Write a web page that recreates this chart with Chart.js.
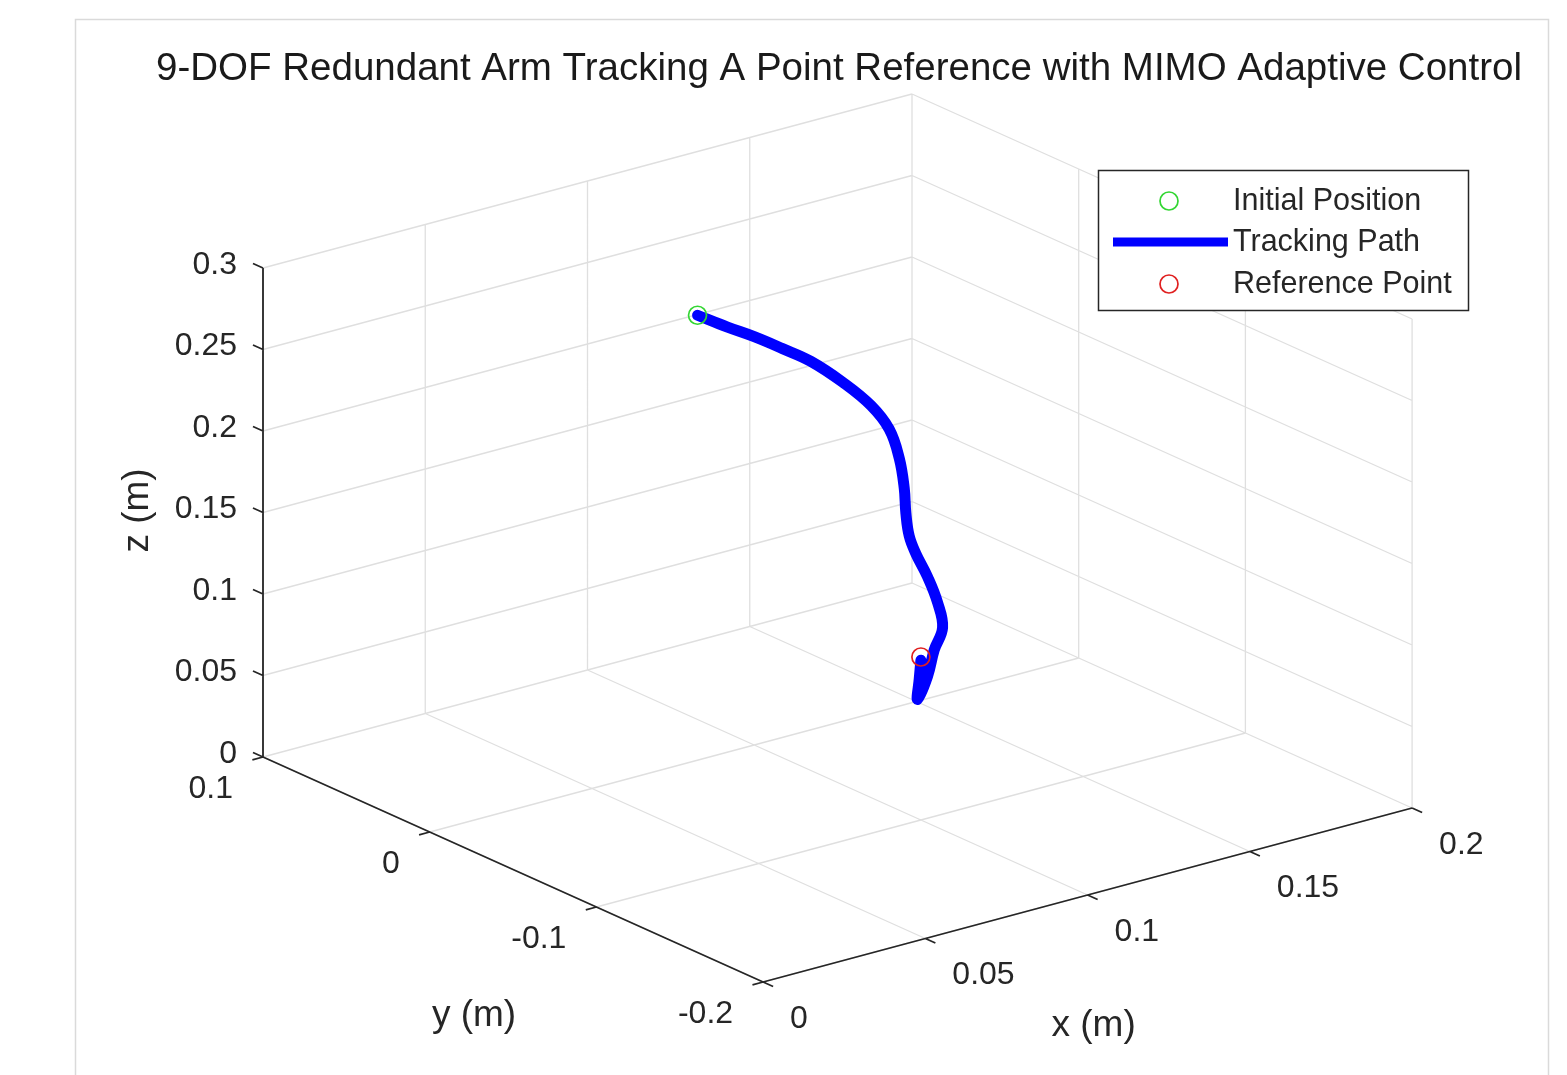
<!DOCTYPE html>
<html>
<head>
<meta charset="utf-8">
<script src="https://cdn.jsdelivr.net/npm/chart.js@4.4.1/dist/chart.umd.min.js"></script>
<style>
html,body{margin:0;padding:0;background:#ffffff;overflow:hidden;}
#wrap{position:relative;width:1567px;height:1075px;}
</style>
</head>
<body>
<div id="wrap"><canvas id="c" width="1567" height="1075"></canvas></div>
<script>
// ---------------- data ----------------
const chartTitle = '9-DOF Redundant Arm Tracking A Point Reference with MIMO Adaptive Control';
const xTicks = [0, 0.05, 0.1, 0.15, 0.2];
const yTicks = [-0.2, -0.1, 0, 0.1];
const zTicks = [0, 0.05, 0.1, 0.15, 0.2, 0.25, 0.3];
const xTickLabels = ['0', '0.05', '0.1', '0.15', '0.2'];
const yTickLabels = ['-0.2', '-0.1', '0', '0.1'];
const zTickLabels = ['0', '0.05', '0.1', '0.15', '0.2', '0.25', '0.3'];
const axisTitles = ['x (m)', 'y (m)', 'z (m)'];
const seriesNames = ['Initial Position', 'Tracking Path', 'Reference Point'];

// tracking path (m)
const pathX = [0.100, 0.100, 0.100, 0.100, 0.100, 0.100, 0.100, 0.100, 0.100, 0.100, 0.100,
               0.100, 0.100, 0.100, 0.100, 0.100, 0.100, 0.100, 0.100, 0.100, 0.100];
const pathY = [0.034, 0.016, 0.000, -0.017, -0.034, -0.053, -0.070, -0.081, -0.087, -0.090, -0.091,
               -0.093, -0.097, -0.104, -0.110, -0.113, -0.108, -0.104, -0.098, -0.099, -0.100];
const pathZ = [0.248, 0.249, 0.2505, 0.251, 0.251, 0.247, 0.2405, 0.231, 0.216, 0.199, 0.184,
               0.171, 0.162, 0.151, 0.138, 0.124, 0.108, 0.090, 0.073, 0.086, 0.098];
const initialPosition = [0.100, 0.034, 0.248];
const referencePoint = [0.100, -0.100, 0.100];

// ---------------- view (3-D to screen) ----------------
const VIEW = { origin: [429.7, 832], ex: [3245, -870], ey: [-1667, -750], ez: [0, -1630] };
function project(x, y, z) {
  return {
    x: VIEW.origin[0] + x * VIEW.ex[0] + y * VIEW.ey[0] + z * VIEW.ez[0],
    y: VIEW.origin[1] + x * VIEW.ex[1] + y * VIEW.ey[1] + z * VIEW.ez[1]
  };
}
function unit(v) { const l = Math.hypot(v[0], v[1]); return [v[0] / l, v[1] / l]; }
const xMin = xTicks[0], xMax = xTicks[xTicks.length - 1];
const yMin = yTicks[0], yMax = yTicks[yTicks.length - 1];
const zMin = zTicks[0], zMax = zTicks[zTicks.length - 1];
const GAP = { x: null, y: null };
const TICK_LEN = 11;

function seg(list, a, b) { list.push(project(a[0], a[1], a[2]), project(b[0], b[1], b[2]), GAP); }
function tick(list, p, dir) { list.push({ x: p.x, y: p.y }, { x: p.x + dir[0] * TICK_LEN, y: p.y + dir[1] * TICK_LEN }, GAP); }

const gridPts = [];
xTicks.forEach(x => { seg(gridPts, [x, yMin, zMin], [x, yMax, zMin]); seg(gridPts, [x, yMax, zMin], [x, yMax, zMax]); });
yTicks.forEach(y => { seg(gridPts, [xMin, y, zMin], [xMax, y, zMin]); seg(gridPts, [xMax, y, zMin], [xMax, y, zMax]); });
zTicks.forEach(z => { seg(gridPts, [xMin, yMax, z], [xMax, yMax, z]); seg(gridPts, [xMax, yMin, z], [xMax, yMax, z]); });

const dX = unit(VIEW.ex), dY = unit(VIEW.ey);
const axisPts = [];
seg(axisPts, [xMin, yMin, zMin], [xMax, yMin, zMin]);
seg(axisPts, [xMin, yMin, zMin], [xMin, yMax, zMin]);
seg(axisPts, [xMin, yMax, zMin], [xMin, yMax, zMax]);
xTicks.forEach(x => tick(axisPts, project(x, yMin, zMin), [-dY[0], -dY[1]]));
yTicks.forEach(y => tick(axisPts, project(xMin, y, zMin), [-dX[0], -dX[1]]));
zTicks.forEach(z => tick(axisPts, project(xMin, yMax, z), [dY[0], dY[1]]));

const pathPts = pathX.map((x, i) => project(x, pathY[i], pathZ[i]));

const FONT = '"Liberation Sans", Arial, Helvetica, sans-serif';
const TEXT = '#262626';

const mat3dPlugin = {
  id: 'mat3d',
  beforeDraw(chart) {
    const ctx = chart.ctx;
    ctx.save();
    ctx.fillStyle = '#ffffff';
    ctx.fillRect(0, 0, chart.width, chart.height);
    ctx.strokeStyle = '#dadada';
    ctx.lineWidth = 1.5;
    ctx.beginPath();
    ctx.moveTo(75.5, chart.height); ctx.lineTo(75.5, 19.5); ctx.lineTo(1548.5, 19.5); ctx.lineTo(1548.5, chart.height);
    ctx.stroke();
    ctx.restore();
  },
  afterDraw(chart) {
    const ctx = chart.ctx;
    const sx = chart.scales.x, sy = chart.scales.y;
    const P = (p) => ({ x: sx.getPixelForValue(p.x), y: sy.getPixelForValue(p.y) });
    ctx.save();
    ctx.fillStyle = TEXT;
    ctx.textBaseline = 'middle';
    ctx.font = '32px ' + FONT;
    // z tick labels
    ctx.textAlign = 'right';
    zTicks.forEach((z, i) => { const p = P(project(xMin, yMax, z)); ctx.fillText(zTickLabels[i], p.x - 26, p.y - 3); });
    // y tick labels
    yTicks.forEach((y, i) => { const p = P(project(xMin, y, zMin)); ctx.fillText(yTickLabels[i], p.x - 30, p.y + 32); });
    // x tick labels
    ctx.textAlign = 'left';
    xTicks.forEach((x, i) => { const p = P(project(x, yMin, zMin)); ctx.fillText(xTickLabels[i], p.x + 27, p.y + 37); });
    // axis titles
    ctx.font = '37px ' + FONT;
    ctx.textAlign = 'center';
    let p = P(project((xMin + xMax) / 2, yMin, zMin));
    ctx.fillText(axisTitles[0], p.x + 6, p.y + 131);
    p = P(project(xMin, (yMin + yMax) / 2, zMin));
    ctx.fillText(axisTitles[1], p.x - 39, p.y + 146);
    p = P(project(xMin, yMax, (zMin + zMax) / 2));
    ctx.save();
    ctx.translate(p.x - 125, p.y - 2);
    ctx.rotate(-Math.PI / 2);
    ctx.fillText(axisTitles[2], 0, 0);
    ctx.restore();
    // title
    ctx.font = '38.5px ' + FONT;
    ctx.fillStyle = '#1a1a1a';
    ctx.fillText(chartTitle, 839, 69);
    // legend
    const lx = 1098, ly = 170, lw = 370, lh = 140;
    ctx.fillStyle = '#ffffff';
    ctx.fillRect(lx, ly, lw, lh);
    ctx.strokeStyle = '#262626';
    ctx.lineWidth = 1.5;
    ctx.strokeRect(lx + 0.5, ly + 0.5, lw, lh);
    const order = [0, 1, 2];
    const rows = [201, 242, 284];
    ctx.font = '30.5px ' + FONT;
    ctx.textAlign = 'left';
    order.forEach((di, r) => {
      const ds = chart.data.datasets[di];
      const yy = rows[r];
      if (ds.showLine) {
        ctx.strokeStyle = ds.borderColor;
        ctx.lineWidth = 9;
        ctx.lineCap = 'butt';
        ctx.beginPath(); ctx.moveTo(1113, yy); ctx.lineTo(1228, yy); ctx.stroke();
      } else {
        ctx.strokeStyle = ds.pointBorderColor;
        ctx.lineWidth = ds.pointBorderWidth;
        ctx.beginPath(); ctx.arc(1169, yy, ds.pointRadius, 0, Math.PI * 2); ctx.stroke();
      }
      ctx.fillStyle = TEXT;
      ctx.fillText(ds.label, 1233, yy + 1);
    });
    ctx.restore();
  }
};

new Chart(document.getElementById('c'), {
  type: 'scatter',
  data: {
    datasets: [
      { label: seriesNames[0], data: [project(initialPosition[0], initialPosition[1], initialPosition[2])],
        showLine: false, pointStyle: 'circle', pointRadius: 9, pointBorderColor: '#33d633',
        pointBackgroundColor: 'rgba(0,0,0,0)', pointBorderWidth: 1.7, order: 0 },
      { label: seriesNames[1], data: pathPts, showLine: true, borderColor: '#0000ff', borderWidth: 11,
        pointRadius: 0, tension: 0.4, borderCapStyle: 'round', borderJoinStyle: 'round', order: 1 },
      { label: seriesNames[2], data: [project(referencePoint[0], referencePoint[1], referencePoint[2])],
        showLine: false, pointStyle: 'circle', pointRadius: 9, pointBorderColor: '#e02020',
        pointBackgroundColor: 'rgba(0,0,0,0)', pointBorderWidth: 1.7, order: 0 },
      { label: 'axes', data: axisPts, showLine: true, spanGaps: false, borderColor: '#262626', borderWidth: 1.8,
        pointRadius: 0, order: 2 },
      { label: 'grid', data: gridPts, showLine: true, spanGaps: false, borderColor: '#dfdfdf', borderWidth: 1.3,
        pointRadius: 0, order: 3 }
    ]
  },
  options: {
    responsive: false,
    animation: false,
    devicePixelRatio: 1,
    events: [],
    layout: { padding: 0, autoPadding: false },
    scales: {
      x: { type: 'linear', min: 0, max: 1567, display: false },
      y: { type: 'linear', min: 0, max: 1075, reverse: true, display: false }
    },
    plugins: { legend: { display: false }, tooltip: { enabled: false }, title: { display: false } }
  },
  plugins: [mat3dPlugin]
});
</script>
</body>
</html>
